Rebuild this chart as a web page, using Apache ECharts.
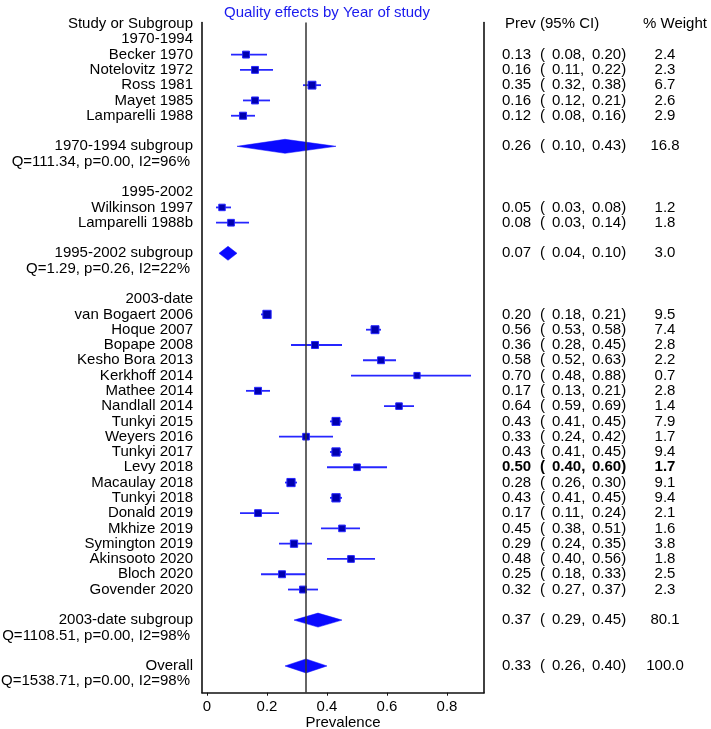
<!DOCTYPE html>
<html><head><meta charset="utf-8">
<script src="https://cdn.jsdelivr.net/npm/echarts@6/dist/echarts.min.js"></script>
<style>html,body{margin:0;padding:0;background:#fff}#c{width:711px;height:729px}</style>
</head><body><div id="c"></div>
<script>
// ---- data ----
const groupHeaders = ["1970-1994", "1995-2002", "2003-date"];
const studyNames = ["Becker 1970","Notelovitz 1972","Ross 1981","Mayet 1985","Lamparelli 1988",
  "Wilkinson 1997","Lamparelli 1988b",
  "van Bogaert 2006","Hoque 2007","Bopape 2008","Kesho Bora 2013","Kerkhoff 2014","Mathee 2014",
  "Nandlall 2014","Tunkyi 2015","Weyers 2016","Tunkyi 2017","Levy 2018","Macaulay 2018","Tunkyi 2018",
  "Donald 2019","Mkhize 2019","Symington 2019","Akinsooto 2020","Bloch 2020","Govender 2020"];
const studyGroup = [0,0,0,0,0, 1,1, 2,2,2,2,2,2,2,2,2,2,2,2,2,2,2,2,2,2,2];
const studyPrev = [0.13,0.16,0.35,0.16,0.12, 0.05,0.08, 0.20,0.56,0.36,0.58,0.70,0.17,0.64,0.43,0.33,0.43,0.50,0.28,0.43,0.17,0.45,0.29,0.48,0.25,0.32];
const studyLo   = [0.08,0.11,0.32,0.12,0.08, 0.03,0.03, 0.18,0.53,0.28,0.52,0.48,0.13,0.59,0.41,0.24,0.41,0.40,0.26,0.41,0.11,0.38,0.24,0.40,0.18,0.27];
const studyHi   = [0.20,0.22,0.38,0.21,0.16, 0.08,0.14, 0.21,0.58,0.45,0.63,0.88,0.21,0.69,0.45,0.42,0.45,0.60,0.30,0.45,0.24,0.51,0.35,0.56,0.33,0.37];
const studyWeight = [2.4,2.3,6.7,2.6,2.9, 1.2,1.8, 9.5,7.4,2.8,2.2,0.7,2.8,1.4,7.9,1.7,9.4,1.7,9.1,9.4,2.1,1.6,3.8,1.8,2.5,2.3];
const boldStudies = ["Levy 2018"];
const pooledNames = ["1970-1994 subgroup","1995-2002 subgroup","2003-date subgroup","Overall"];
const pooledPrev = [0.26,0.07,0.37,0.33];
const pooledLo   = [0.10,0.04,0.29,0.26];
const pooledHi   = [0.43,0.10,0.45,0.40];
const pooledWeight = [16.8,3.0,80.1,100.0];
const pooledStats = ["Q=111.34, p=0.00, I2=96%","Q=1.29, p=0.26, I2=22%","Q=1108.51, p=0.00, I2=98%","Q=1538.71, p=0.00, I2=98%"];
const xTicks = [0, 0.2, 0.4, 0.6, 0.8];
const xTickLabels = ["0", "0.2", "0.4", "0.6", "0.8"];
const titleText = "Quality effects by Year of study";
const colHeaders = ["Study or Subgroup", "Prev (95% CI)", "% Weight"];
const axisName = "Prevalence";

// ---- build rows (structure only) ----
const rows = [];
rows.push({kind:'colhead'});
const studyRows = [], pooledRows = [];
for (let g = 0; g < groupHeaders.length; g++) {
  rows.push({kind:'header', label: groupHeaders[g]});
  studyNames.forEach((n, i) => {
    if (studyGroup[i] === g) { studyRows.push([studyPrev[i], studyLo[i], studyHi[i], rows.length, studyWeight[i]]);
      rows.push({kind:'study', i}); }
  });
  rows.push({kind:'blank'});
  pooledRows.push([pooledPrev[g], pooledLo[g], pooledHi[g], rows.length]);
  rows.push({kind:'pooled', i:g});
  rows.push({kind:'stat', i:g});
  rows.push({kind:'blank'});
}
pooledRows.push([pooledPrev[3], pooledLo[3], pooledHi[3], rows.length]);
rows.push({kind:'pooled', i:3});
rows.push({kind:'stat', i:3});

const FONT = '"Liberation Sans", Arial, sans-serif';
const FS = 15;
const BLUE = '#2626ff';

function txt(x, y, s, align, bold, color) {
  return {type:'text', x, y, style:{text:s, x:0, y:0, fill: color || '#000', align: align || 'left',
    verticalAlign:'middle', font:(bold ? 'bold ' : '') + FS + 'px ' + FONT}};
}

const chart = echarts.init(document.getElementById('c'), null, {renderer:'canvas'});
const yMin = -0.1, yMax = 43.75;
const option = {
  animation: false,
  title: {text: titleText, left: 224, top: 5, padding: 0,
    textStyle:{color:'#1a1aee', fontSize: FS, fontWeight:'normal', fontFamily: FONT}},
  grid: {left: 202, right: 227, top: 22.5, bottom: 36.3, containLabel: false, outerBoundsMode: 'none'},
  xAxis: {type:'value', min: -0.0167, max: 0.9233,
    axisLine:{show:true, onZero:false, lineStyle:{color:'#111', width:1.6}},
    splitLine:{show:false},
    axisTick:{show:true, customValues: xTicks, length:3, lineStyle:{color:'#111'}},
    axisLabel:{customValues: xTicks, margin:7, color:'#000', fontSize: FS, fontFamily: FONT,
      formatter: v => xTickLabels[xTicks.findIndex(t => Math.abs(t - v) < 1e-6)] ?? ''},
    name: axisName, nameLocation:'middle', nameGap: 23, nameMoveOverlap: false,
    nameTextStyle:{color:'#000', fontSize: FS, fontFamily: FONT}},
  yAxis: [
    {type:'value', min:yMin, max:yMax, inverse:true, position:'left',
      axisLine:{show:true, onZero:false, lineStyle:{color:'#111', width:1.6}},
      axisTick:{show:false}, axisLabel:{show:false}, splitLine:{show:false}},
    {type:'value', min:yMin, max:yMax, inverse:true, position:'right',
      axisLine:{show:true, onZero:false, lineStyle:{color:'#111', width:1.6}},
      axisTick:{show:false}, axisLabel:{show:false}, splitLine:{show:false}}
  ],
  series: [
    {type:'custom', name:'studies', data: studyRows, encode:{x:[0,1,2], y:3},
      renderItem(params, api) {
        const p = api.value(0), lo = api.value(1), hi = api.value(2), r = api.value(3), w = api.value(4);
        const c = api.coord([p, r]), a = api.coord([lo, r]), b = api.coord([hi, r]);
        const s = 5.5 + Math.sqrt(w) * 0.9;
        return {type:'group', children:[
          {type:'line', shape:{x1:a[0], y1:a[1], x2:b[0], y2:b[1]}, style:{stroke:BLUE, lineWidth:1.8}},
          {type:'rect', shape:{x:c[0]-s/2, y:c[1]-s/2, width:s, height:s}, style:{fill:'#0000b0', stroke:BLUE, lineWidth:1}}
        ]};
      },
      markLine: {silent:true, symbol:'none', label:{show:false},
        lineStyle:{color:'#333', width:1.5, type:'solid'}, data:[{xAxis: pooledPrev[3]}]}
    },
    {type:'custom', name:'pooled', data: pooledRows, encode:{x:[0,1,2], y:3},
      renderItem(params, api) {
        const p = api.value(0), lo = api.value(1), hi = api.value(2), r = api.value(3);
        const c = api.coord([p, r]), a = api.coord([lo, r]), b = api.coord([hi, r]);
        const h = 7;
        return {type:'polygon', shape:{points:[[a[0], a[1]], [c[0], c[1]-h], [b[0], b[1]], [c[0], c[1]+h]]},
          style:{fill:'#0a0aff', stroke:'#0a0aff', lineWidth:0.5}};
      }
    },
    {type:'custom', name:'text', data: rows.map((r, i) => [0, i]), encode:{x:0, y:1},
      renderItem(params, api) {
        const row = rows[params.dataIndex];
        const y = api.coord([0, api.value(1)])[1];
        const kids = [];
        const addVals = (p, lo, hi, w, bold) => {
          kids.push(txt(502, y, p.toFixed(2), 'left', bold));
          kids.push(txt(540, y, '(', 'left', bold));
          kids.push(txt(552, y, lo.toFixed(2) + ',', 'left', bold));
          kids.push(txt(592, y, hi.toFixed(2) + ')', 'left', bold));
          kids.push(txt(665, y, w.toFixed(1), 'center', bold));
        };
        if (row.kind === 'colhead') {
          kids.push(txt(193, y, colHeaders[0], 'right'));
          kids.push(txt(505, y, colHeaders[1], 'left'));
          kids.push(txt(643, y, colHeaders[2], 'left'));
        } else if (row.kind === 'header') {
          kids.push(txt(193, y, row.label, 'right'));
        } else if (row.kind === 'study') {
          const i = row.i, bold = boldStudies.includes(studyNames[i]);
          kids.push(txt(193, y, studyNames[i], 'right'));
          addVals(studyPrev[i], studyLo[i], studyHi[i], studyWeight[i], bold);
        } else if (row.kind === 'pooled') {
          const i = row.i;
          kids.push(txt(193, y, pooledNames[i], 'right'));
          addVals(pooledPrev[i], pooledLo[i], pooledHi[i], pooledWeight[i], false);
        } else if (row.kind === 'stat') {
          kids.push(txt(190, y, pooledStats[row.i], 'right'));
        }
        return {type:'group', children: kids};
      }
    }
  ]
};
chart.setOption(option);
</script></body></html>
